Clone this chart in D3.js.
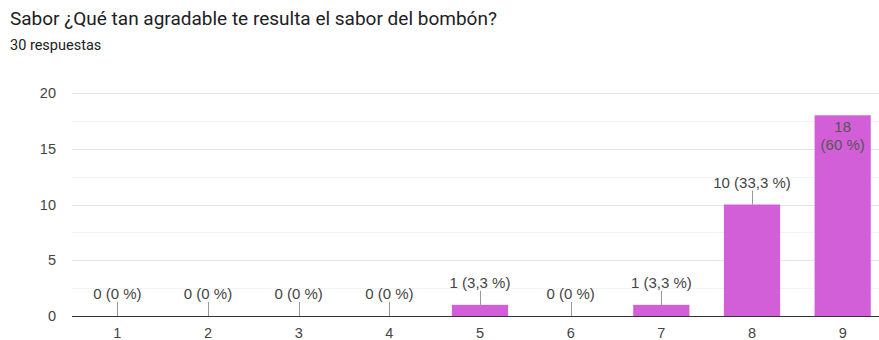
<!DOCTYPE html>
<html>
<head>
<meta charset="utf-8">
<script src="https://cdn.jsdelivr.net/npm/d3@7"></script>
<style>
  html, body { margin: 0; padding: 0; background: #fff; }
  svg { display: block; }
</style>
</head>
<body>
<svg id="chart" width="879" height="340"></svg>
<script>
// Survey answers: rating 1..9, number of responses each
const categories = ["1", "2", "3", "4", "5", "6", "7", "8", "9"];
const counts = [0, 0, 0, 0, 1, 0, 1, 10, 18];
const percentLabels = ["0 %", "0 %", "0 %", "0 %", "3,3 %", "0 %", "3,3 %", "33,3 %", "60 %"];
const yTicks = [0, 5, 10, 15, 20];
const titleText = "Sabor ¿Qué tan agradable te resulta el sabor del bombón?";
const subtitleText = "30 respuestas";

const svg = d3.select("#chart");
const chartFont = "'Liberation Sans', Arial, sans-serif";

const x = d3.scaleBand().domain(categories).range([72, 888]).paddingInner(0.38).paddingOuter(0.19);
const y = d3.scaleLinear().domain([0, 20]).range([316, 93]);

// Heading
svg.append("text").attr("x", 10).attr("y", 25)
  .attr("font-family", "Roboto, sans-serif").attr("font-size", 19).attr("fill", "#202124")
  .text(titleText);
svg.append("text").attr("x", 10).attr("y", 50)
  .attr("font-family", "Roboto, sans-serif").attr("font-size", 14.5).attr("fill", "#202124")
  .text(subtitleText);

// Minor and major gridlines
const minor = d3.range(2.5, 20, 5);
svg.append("g").selectAll("line").data(minor).join("line")
  .attr("x1", 72).attr("x2", 879)
  .attr("y1", d => Math.round(y(d)) + 0.5).attr("y2", d => Math.round(y(d)) + 0.5)
  .attr("stroke", "#f3f3f3");
svg.append("g").selectAll("line").data(yTicks.filter(d => d > 0)).join("line")
  .attr("x1", 72).attr("x2", 879)
  .attr("y1", d => Math.round(y(d)) + 0.5).attr("y2", d => Math.round(y(d)) + 0.5)
  .attr("stroke", "#e4e4e4");

// Y axis labels
const yAxis = d3.axisLeft(y).tickValues(yTicks).tickSize(0).tickPadding(16);
const yg = svg.append("g").attr("transform", "translate(72,0)").call(yAxis);
yg.select(".domain").remove();
yg.selectAll("text").attr("font-family", chartFont).attr("font-size", 14.5).attr("fill", "#444");

// Bars
const data = categories.map((c, i) => ({ c, v: counts[i], p: percentLabels[i] }));
svg.append("g").selectAll("rect").data(data.filter(d => d.v > 0)).join("rect")
  .attr("x", d => x(d.c)).attr("width", x.bandwidth())
  .attr("y", d => y(d.v)).attr("height", d => y(0) - y(d.v))
  .attr("fill", "#d35fd8");

// X axis
const xAxis = d3.axisBottom(x).tickSize(0).tickPadding(12);
const xg = svg.append("g").attr("transform", "translate(0,316)").call(xAxis);
xg.select(".domain").remove();
xg.selectAll("text").attr("font-family", chartFont).attr("font-size", 14.5).attr("fill", "#444");
svg.append("line").attr("x1", 72).attr("x2", 879).attr("y1", 316.5).attr("y2", 316.5)
  .attr("stroke", "#333").attr("stroke-width", 1);

// Value annotations
const ann = svg.append("g").attr("font-family", chartFont).attr("font-size", 15)
  .attr("fill", "#444").attr("text-anchor", "middle");
data.forEach(d => {
  const cx = x(d.c) + x.bandwidth() / 2;
  const top = y(d.v);
  if (d.v < 15) {
    ann.append("line").attr("x1", Math.round(cx) + 0.5).attr("x2", Math.round(cx) + 0.5)
      .attr("y1", top - 14).attr("y2", top).attr("stroke", "#999");
    ann.append("text").attr("x", cx).attr("y", top - 17).text(`${d.v} (${d.p})`);
  } else {
    ann.append("text").attr("x", cx).attr("y", top + 16.5).attr("fill", "#555").text(`${d.v}`);
    ann.append("text").attr("x", cx).attr("y", top + 35).attr("fill", "#555").text(`(${d.p})`);
  }
});
</script>
</body>
</html>
